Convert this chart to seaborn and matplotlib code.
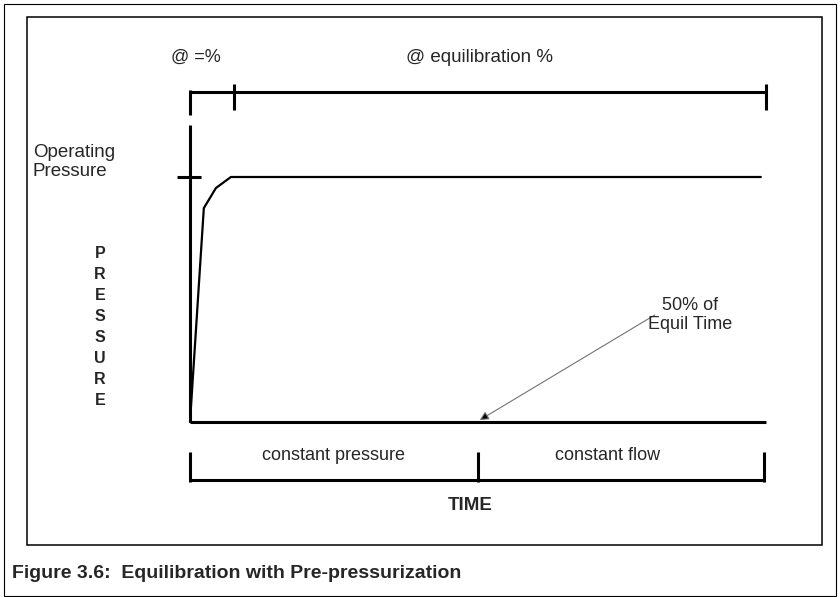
import matplotlib
matplotlib.use("Agg")
import matplotlib.pyplot as plt
import seaborn as sns
import pandas as pd
from matplotlib.patches import Rectangle

# pressure curve, in % of equilibration time and % of operating pressure
time_pct = [0, 2.4, 4.5, 7.1, 99.1]
pressure_pct = [0, 87.3, 95.5, 100, 100]

# phase boundaries (% of time)
top_edges = [0, 7.6, 100]
top_labels = ["@ =%", "@ equilibration %"]
bottom_edges = [0, 50, 100]
bottom_labels = ["constant pressure", "constant flow"]

arrow_tip = (50.3, 0.8)
arrow_tail = (80.7, 43.7)

W, H = 840, 597
FONT = "Liberation Sans"


def fig_text(fig, x, y, s, **kw):
    # place text using pixel coords of the image
    kw.setdefault("family", FONT)
    kw.setdefault("fontsize", 13)
    return fig.text(x / W, 1 - y / H, s, **kw)


def draw_frames(fig):
    outer = Rectangle((4 / W, 1 - 596 / H), 832 / W, 592 / H, transform=fig.transFigure,
                      fill=False, lw=0.8, ec="black")
    inner = Rectangle((27 / W, 1 - 545 / H), 795 / W, 528 / H, transform=fig.transFigure,
                      fill=False, lw=1.1, ec="black")
    fig.add_artist(outer)
    fig.add_artist(inner)


def main():
    sns.set_style("white")
    plt.rcParams["font.family"] = [FONT, "DejaVu Sans"]

    fig = plt.figure(figsize=(W / 100, H / 100), dpi=100)
    ax = fig.add_axes([0, 0, 1, 1])
    # 1 % time = 5.76 px, 1 % pressure = 2.45 px, origin at pixel (190, 422)
    ax.set_xlim(-190 / 5.76, (W - 190) / 5.76)
    ax.set_ylim((422 - H) / 2.45, 422 / 2.45)
    ax.axis("off")

    draw_frames(fig)

    df = pd.DataFrame({"time": time_pct, "pressure": pressure_pct})
    sns.lineplot(data=df, x="time", y="pressure", ax=ax, color="black", lw=1.6, sort=False)

    axis_kw = dict(color="black", lw=2.2, solid_capstyle="butt")
    # axes
    ax.plot([0, 0], [0, 121.2], **axis_kw)
    ax.plot([0, 100], [0, 0], **axis_kw)
    ax.plot([-2.3, 1.9], [100, 100], **axis_kw)

    # top bracket
    ax.plot([top_edges[0], top_edges[-1]], [134.7, 134.7], **axis_kw)
    ax.plot([top_edges[0]] * 2, [135.5, 125.3], **axis_kw)
    for t in top_edges[1:]:
        ax.plot([t, t], [138, 127.2], **axis_kw)

    # bottom bracket
    ax.plot([bottom_edges[0], bottom_edges[-1] - 0.3], [-23.7, -23.7], **axis_kw)
    for t in bottom_edges:
        tt = min(t, 99.7)
        ax.plot([tt, tt], [-12.2, -24.5], **axis_kw)

    ax.annotate("", xy=arrow_tip, xytext=arrow_tail,
                arrowprops=dict(arrowstyle="-|>", ec="0.45", fc="black", lw=0.8,
                                mutation_scale=13, shrinkA=0, shrinkB=0))

    # labels
    fig_text(fig, 196, 57, top_labels[0], ha="center", va="center")
    fig_text(fig, 480, 57, top_labels[1], ha="center", va="center", fontsize=13.5)
    fig_text(fig, 33, 162, "Operating\nPressure", ha="left", va="center", linespacing=1.15,
             fontsize=13.5)
    fig_text(fig, 100, 327, "\n".join("PRESSURE"), ha="center", va="center",
             fontweight="bold", fontsize=11.5, linespacing=1.5)
    fig_text(fig, 690, 315, "50% of\nEquil Time", ha="center", va="center", linespacing=1.2)
    fig_text(fig, 334, 455, bottom_labels[0], ha="center", va="center")
    fig_text(fig, 608, 455, bottom_labels[1], ha="center", va="center")
    fig_text(fig, 470, 506, "TIME", ha="center", va="center", fontweight="bold", fontsize=13.5)
    fig_text(fig, 12, 573, "Figure 3.6:  Equilibration with Pre-pressurization", ha="left",
             va="center", fontweight="bold", fontsize=14)

    fig.savefig("out.png", dpi=100)
    plt.close(fig)


if __name__ == "__main__":
    main()
